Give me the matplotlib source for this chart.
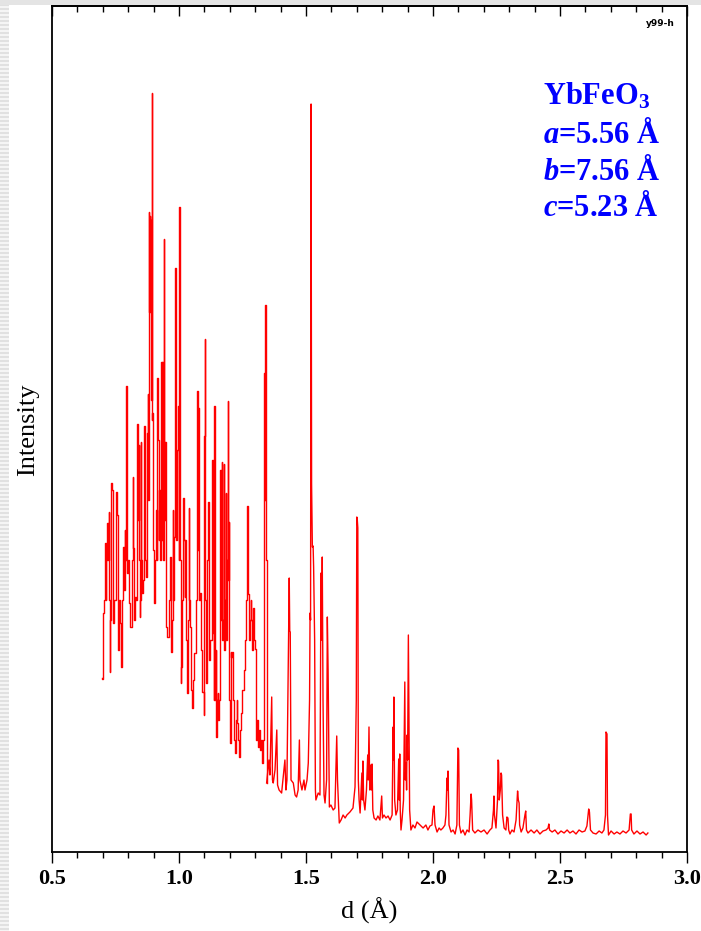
import numpy as np
import matplotlib
matplotlib.use("Agg")
import matplotlib.pyplot as plt
from matplotlib.patches import Rectangle
from matplotlib.ticker import MultipleLocator, FormatStrFormatter

# YbFeO3 powder pattern, intensity vs d-spacing (arbitrary units)
d_spacing = [
    0.696, 0.700, 0.701, 0.705, 0.709, 0.713, 0.715, 0.719, 0.721, 0.724, 0.726, 0.728, 0.730, 0.735,
    0.737, 0.740, 0.744, 0.748, 0.755, 0.759, 0.761, 0.764, 0.768, 0.772, 0.776, 0.780, 0.782, 0.785,
    0.787, 0.791, 0.794, 0.795, 0.799, 0.803, 0.807, 0.811, 0.815, 0.819, 0.821, 0.823, 0.827, 0.830,
    0.835, 0.837, 0.839, 0.843, 0.845, 0.846, 0.848, 0.850, 0.854, 0.858, 0.862, 0.866, 0.870, 0.873,
    0.875, 0.877, 0.879, 0.881, 0.883, 0.885, 0.887, 0.890, 0.891, 0.893, 0.894, 0.897, 0.898, 0.902,
    0.906, 0.912, 0.914, 0.916, 0.919, 0.921, 0.925, 0.929, 0.932, 0.934, 0.936, 0.938, 0.941, 0.943,
    0.946, 0.949, 0.952, 0.957, 0.961, 0.965, 0.969, 0.971, 0.974, 0.976, 0.980, 0.984, 0.988, 0.991,
    0.994, 0.997, 1.000, 1.003, 1.005, 1.007, 1.011, 1.014, 1.017, 1.020, 1.024, 1.026, 1.030, 1.034,
    1.037, 1.039, 1.043, 1.046, 1.049, 1.055, 1.059, 1.063, 1.067, 1.072, 1.074, 1.076, 1.079, 1.083,
    1.087, 1.089, 1.095, 1.098, 1.100, 1.102, 1.104, 1.109, 1.112, 1.115, 1.118, 1.122, 1.126, 1.130,
    1.133, 1.135, 1.138, 1.141, 1.143, 1.146, 1.148, 1.152, 1.154, 1.157, 1.161, 1.164, 1.167, 1.169,
    1.172, 1.175, 1.178, 1.180, 1.182, 1.185, 1.188, 1.190, 1.193, 1.195, 1.197, 1.199, 1.201, 1.205,
    1.207, 1.211, 1.213, 1.217, 1.220, 1.223, 1.226, 1.228, 1.232, 1.236, 1.240, 1.244, 1.247, 1.252,
    1.257, 1.260, 1.267, 1.271, 1.273, 1.276, 1.280, 1.284, 1.286, 1.289, 1.294, 1.297, 1.302, 1.306,
    1.309, 1.312, 1.317, 1.322, 1.325, 1.328, 1.331, 1.337, 1.339, 1.341, 1.344, 1.345, 1.350, 1.354,
    1.358, 1.365, 1.368, 1.371, 1.378, 1.385, 1.388, 1.394, 1.404, 1.409, 1.417, 1.421, 1.425, 1.434,
    1.436, 1.438, 1.441, 1.450, 1.457, 1.463, 1.469, 1.474, 1.476, 1.484, 1.492, 1.496, 1.504, 1.509,
    1.514, 1.516, 1.518, 1.520, 1.522, 1.525, 1.528, 1.530, 1.534, 1.537, 1.539, 1.548, 1.555, 1.559,
    1.561, 1.564, 1.567, 1.571, 1.575, 1.581, 1.584, 1.587, 1.592, 1.598, 1.607, 1.614, 1.621, 1.624,
    1.631, 1.638, 1.646, 1.654, 1.661, 1.673, 1.685, 1.693, 1.698, 1.700, 1.702, 1.704, 1.706, 1.709,
    1.713, 1.717, 1.720, 1.722, 1.724, 1.727, 1.732, 1.738, 1.743, 1.745, 1.748, 1.751, 1.755, 1.757,
    1.760, 1.763, 1.768, 1.776, 1.783, 1.791, 1.798, 1.801, 1.807, 1.815, 1.823, 1.831, 1.839, 1.843,
    1.844, 1.846, 1.849, 1.854, 1.860, 1.865, 1.867, 1.869, 1.871, 1.874, 1.878, 1.884, 1.889, 1.891,
    1.894, 1.896, 1.898, 1.900, 1.903, 1.906, 1.908, 1.913, 1.921, 1.929, 1.937, 1.949, 1.961, 1.972,
    1.980, 1.988, 1.996, 2.000, 2.004, 2.008, 2.016, 2.024, 2.031, 2.039, 2.047, 2.051, 2.055, 2.057,
    2.059, 2.063, 2.071, 2.079, 2.087, 2.094, 2.098, 2.101, 2.104, 2.110, 2.118, 2.126, 2.134, 2.142,
    2.146, 2.150, 2.152, 2.156, 2.165, 2.177, 2.189, 2.201, 2.213, 2.224, 2.232, 2.238, 2.240, 2.242,
    2.248, 2.254, 2.256, 2.258, 2.261, 2.265, 2.268, 2.270, 2.274, 2.280, 2.287, 2.291, 2.295, 2.298,
    2.303, 2.311, 2.319, 2.327, 2.333, 2.336, 2.339, 2.341, 2.347, 2.354, 2.362, 2.365, 2.368, 2.374,
    2.386, 2.398, 2.409, 2.421, 2.433, 2.445, 2.453, 2.456, 2.459, 2.469, 2.480, 2.492, 2.504, 2.516,
    2.528, 2.539, 2.551, 2.563, 2.575, 2.587, 2.598, 2.606, 2.613, 2.616, 2.620, 2.630, 2.642, 2.654,
    2.665, 2.673, 2.679, 2.681, 2.685, 2.687, 2.691, 2.701, 2.713, 2.724, 2.736, 2.748, 2.760, 2.772,
    2.777, 2.780, 2.782, 2.791, 2.803, 2.815, 2.827, 2.839, 2.846,
]

intensity = [
    174, 173, 239, 252, 309, 252, 292, 329, 292, 340, 252, 180, 232, 369,
    362, 262, 229, 252, 360, 337, 202, 252, 229, 185, 252, 292, 305, 262,
    322, 292, 466, 342, 279, 292, 249, 225, 292, 375, 304, 232, 242, 255,
    252, 428, 332, 407, 292, 235, 252, 410, 292, 259, 272, 426, 292, 275,
    419, 458, 352, 640, 540, 636, 552, 632, 452, 759, 432, 439, 302, 249,
    292, 342, 292, 474, 412, 312, 362, 292, 490, 312, 490, 292, 613, 332,
    410, 352, 225, 215, 252, 295, 232, 200, 232, 342, 252, 315, 584, 312,
    402, 446, 292, 645, 292, 169, 185, 252, 354, 312, 255, 312, 212, 159,
    232, 344, 252, 225, 162, 144, 172, 199, 252, 461, 302, 444, 252, 259,
    222, 202, 160, 137, 416, 513, 252, 169, 292, 350, 279, 192, 212, 252,
    392, 219, 152, 446, 152, 202, 115, 152, 159, 132, 152, 382, 232, 390,
    212, 232, 388, 202, 252, 359, 212, 292, 451, 272, 330, 152, 109, 200,
    195, 200, 152, 139, 112, 99, 132, 152, 129, 112, 95, 122, 139, 162,
    182, 212, 252, 346, 258, 212, 232, 252, 232, 202, 244, 212, 203, 112,
    132, 105, 122, 102, 112, 89, 112, 479, 352, 547, 292, 69, 82, 92,
    77, 155, 72, 69, 82, 122, 67, 62, 59, 72, 92, 62, 72, 274,
    221, 220, 72, 69, 57, 55, 62, 112, 72, 62, 72, 62, 72, 89,
    152, 239, 232, 748, 368, 305, 306, 285, 212, 62, 52, 59, 57, 279,
    212, 295, 152, 57, 49, 72, 235, 182, 45, 47, 42, 44, 116, 72,
    29, 32, 37, 34, 37, 40, 44, 65, 152, 335, 332, 324, 72, 52,
    39, 62, 79, 52, 91, 52, 42, 62, 97, 72, 125, 62, 87, 62,
    88, 42, 34, 32, 36, 32, 56, 34, 37, 34, 36, 32, 37, 125,
    92, 155, 52, 37, 42, 93, 52, 98, 42, 22, 32, 52, 170, 72,
    89, 62, 117, 92, 217, 106, 42, 22, 27, 24, 30, 27, 24, 27,
    22, 26, 27, 42, 46, 27, 20, 24, 22, 24, 27, 37, 74, 62,
    81, 27, 20, 22, 18, 27, 104, 102, 27, 19, 22, 17, 22, 20,
    37, 58, 52, 22, 19, 22, 20, 22, 18, 22, 24, 42, 56, 37,
    24, 52, 92, 91, 52, 62, 79, 77, 37, 24, 22, 35, 34, 22,
    18, 22, 20, 32, 61, 52, 49, 27, 20, 24, 37, 41, 22, 19,
    22, 19, 22, 18, 21, 22, 24, 28, 22, 20, 22, 18, 21, 19,
    22, 19, 21, 18, 22, 20, 21, 26, 43, 40, 22, 19, 18, 21,
    19, 22, 37, 120, 118, 37, 17, 21, 18, 20, 18, 21, 19, 22,
    38, 38, 22, 18, 21, 18, 20, 17, 19,
]

x_ticks = [0.5, 1.0, 1.5, 2.0, 2.5, 3.0]
compound = r"YbFeO$_3$"
cell_labels = [r"$a$=5.56 Å", r"$b$=7.56 Å", r"$c$=5.23 Å"]

plt.rcParams["font.family"] = ["Liberation Serif", "DejaVu Serif"]
plt.rcParams["mathtext.fontset"] = "custom"
plt.rcParams["mathtext.rm"] = "Liberation Serif:bold"
plt.rcParams["mathtext.it"] = "Liberation Serif:italic:bold"
plt.rcParams["mathtext.bf"] = "Liberation Serif:bold"

W, H = 701, 931
fig = plt.figure(figsize=(W / 100, H / 100), dpi=100)
fig.patch.set_facecolor("white")

# striped slide edge on the left and grey strip along the top
stripe_ax = fig.add_axes([0, 0, 9 / W, 1], zorder=-5)
stripes = np.tile(np.array([[0.88], [0.88], [0.96], [0.96]]), (H // 4 + 1, 1))[:H]
stripe_ax.imshow(stripes, cmap="gray", vmin=0, vmax=1, aspect="auto", interpolation="nearest")
stripe_ax.axis("off")
fig.patches.append(Rectangle((0, 1 - 5 / H), 1, 5 / H, transform=fig.transFigure,
                             facecolor="#e4e4e4", edgecolor="none", zorder=-4))

ax = fig.add_axes([52 / W, 1 - 852 / H, 635 / W, 846 / H])

# dense low-d part as steps (vertical spikes), sparse tail as a plain trace
d_arr = np.array(d_spacing)
i_arr = np.array(intensity)
split = np.searchsorted(d_arr, 1.345)
ax.plot(d_arr[:split + 1], i_arr[:split + 1], color="#ff0000", lw=1.0, drawstyle="steps-mid")
ax.plot(d_arr[split:], i_arr[split:], color="#ff0000", lw=1.0)

ax.set_xlim(0.5, 3.0)
ax.set_ylim(0, 846)
ax.set_yticks([])
ax.set_xticks(x_ticks)
ax.xaxis.set_minor_locator(MultipleLocator(0.1))
ax.xaxis.set_major_formatter(FormatStrFormatter("%.1f"))
ax.tick_params(axis="x", which="both", bottom=True, top=False, direction="out", width=1.0,
               color="black", labelsize=16, pad=4)
ax.tick_params(axis="x", which="major", length=8)
ax.tick_params(axis="x", which="minor", length=4.5)
for lab in ax.get_xticklabels():
    lab.set_fontweight("bold")
for sp in ax.spines.values():
    sp.set_linewidth(1.3)
    sp.set_color("black")

# inward ticks along the top edge
top = ax.secondary_xaxis("top")
top.set_xticks(x_ticks)
top.xaxis.set_minor_locator(MultipleLocator(0.1))
top.tick_params(axis="x", which="both", direction="in", width=1.0, labeltop=False)
top.tick_params(axis="x", which="major", length=7.5)
top.tick_params(axis="x", which="minor", length=4)
top.spines["top"].set_linewidth(1.3)

fig.text(28 / W, 1 - 430 / H, "Intensity", rotation=90, ha="center", va="center", fontsize=19)
fig.text(369 / W, 1 - 911 / H, "d (Å)", ha="center", va="center", fontsize=19)

fig.text(660 / W, 1 - 24 / H, "y99-h", ha="center", va="center", fontsize=6.5,
         family="DejaVu Sans", fontweight="bold")

fig.text(543 / W, 1 - 96 / H, compound, ha="left", va="center", fontsize=22,
         fontweight="bold", color="#0000ff")
for i, lab in enumerate(cell_labels):
    fig.text(543 / W, 1 - (135 + 36.5 * i) / H, lab, ha="left", va="center", fontsize=22,
             fontweight="bold", color="#0000ff")

fig.savefig("out.png", dpi=100, facecolor=fig.get_facecolor())
